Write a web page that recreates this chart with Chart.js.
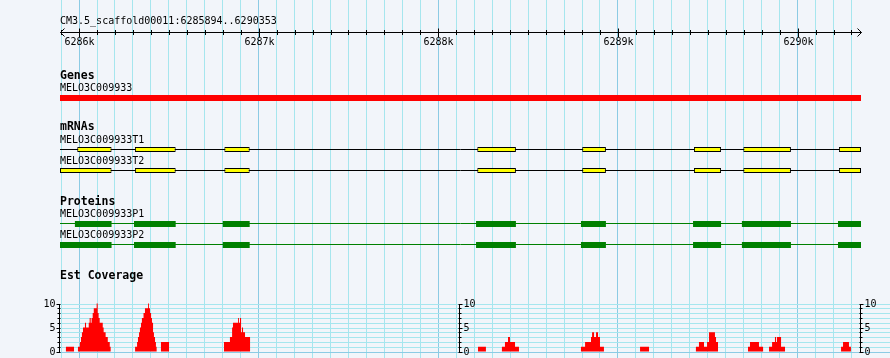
<!DOCTYPE html>
<html>
<head>
<meta charset="utf-8">
<script src="https://cdn.jsdelivr.net/npm/chart.js@4.4.0/dist/chart.umd.min.js"></script>
<style>
  html, body { margin: 0; padding: 0; background: #f2f5fa; }
  #wrap { position: relative; width: 890px; height: 358px; }
</style>
</head>
<body>
<div id="wrap"><canvas id="browser" width="890" height="358"></canvas></div>
<script>
// ─── DATA ─────────────────────────────────────────────────────────────────
const REF_NAME = 'CM3.5_scaffold00011';
const VIEW_START = 6285894;
const VIEW_END = 6290353;

const RULER_MAJOR = [6286000, 6287000, 6288000, 6289000, 6290000];
const RULER_LABELS = ['6286k', '6287k', '6288k', '6289k', '6290k'];

const TRACK_TITLES = ['Genes', 'mRNAs', 'Proteins', 'Est Coverage'];

const GENE_NAME = 'MELO3C009933';
const GENE_SPAN = [6285894, 6290353];

const MRNA_NAMES = ['MELO3C009933T1', 'MELO3C009933T2'];
const MRNA_T1_EXONS = [[6285990, 6286181], [6286311, 6286538], [6286809, 6286950], [6288217, 6288432],
                       [6288801, 6288933], [6289423, 6289574], [6289698, 6289963], [6290230, 6290353]];
const MRNA_T2_EXONS = [[6285894, 6286181], [6286311, 6286538], [6286809, 6286950], [6288217, 6288432],
                       [6288801, 6288933], [6289423, 6289574], [6289698, 6289963], [6290230, 6290353]];

const PROTEIN_NAMES = ['MELO3C009933P1', 'MELO3C009933P2'];
const PROTEIN_P1_CDS = [[6285977, 6286181], [6286306, 6286538], [6286800, 6286950], [6288210, 6288432],
                        [6288794, 6288933], [6289418, 6289574], [6289690, 6289963], [6290225, 6290353]];
const PROTEIN_P2_CDS = [[6285894, 6286181], [6286306, 6286538], [6286800, 6286950], [6288210, 6288432],
                        [6288794, 6288933], [6289418, 6289574], [6289690, 6289963], [6290225, 6290353]];

// coverage steps: each value holds from its position up to the next position
const COV_POS = [
  6285894, 6285927, 6285972,
  6285994, 6286005, 6286011, 6286016, 6286022, 6286033, 6286039, 6286054, 6286059, 6286065, 6286070,
  6286076, 6286082, 6286098, 6286104, 6286109, 6286115, 6286132, 6286137, 6286148, 6286160, 6286171, 6286176,
  6286312, 6286323, 6286328, 6286334, 6286339, 6286345, 6286350, 6286359, 6286367, 6286384, 6286389,
  6286395, 6286401, 6286406, 6286412, 6286417, 6286423, 6286428, 6286432,
  6286456, 6286501,
  6286807, 6286840, 6286852, 6286857, 6286885, 6286890, 6286896, 6286902, 6286907, 6286913, 6286924, 6286952,
  6288221, 6288265,
  6288354, 6288371, 6288388, 6288399, 6288427, 6288449,
  6288794, 6288817, 6288850, 6288856, 6288867, 6288878, 6288889, 6288900, 6288922,
  6289123, 6289173,
  6289434, 6289451, 6289479, 6289496, 6289507, 6289540, 6289546, 6289557,
  6289724, 6289735, 6289785, 6289808,
  6289841, 6289858, 6289874, 6289880, 6289885, 6289908, 6289930,
  6290242, 6290253, 6290286, 6290297, 6290353
];
const COV_VAL = [
  0, 1, 0,
  1, 2, 3, 4, 5, 6, 5, 6, 7, 6, 7,
  8, 9, 10, 8, 7, 6, 5, 4, 3, 2, 1, 0,
  1, 2, 3, 4, 5, 6, 7, 8, 9, 10, 9,
  8, 7, 6, 4, 3, 2, 1, 0,
  2, 0,
  2, 3, 5, 6, 7, 6, 7, 4, 5, 4, 3, 0,
  1, 0,
  1, 2, 3, 2, 1, 0,
  1, 2, 3, 4, 3, 4, 3, 1, 0,
  1, 0,
  1, 2, 1, 2, 4, 3, 2, 0,
  1, 2, 1, 0,
  1, 2, 3, 2, 3, 1, 0,
  1, 2, 1, 0, 0
];
const COV_MAX = 10;
const COV_LABELS = [0, 5, 10];

// ─── LAYOUT (pixels) ──────────────────────────────────────────────────────
const W = 890, H = 358;
const PLOT_LEFT = 60, PLOT_RIGHT = 861;
const ROW = {
  title: 21, ruler: 32, rulerLabel: 42.5,
  genesTitle: 76.5, geneName: 88.5, gene: 98,
  mrnaTitle: 127, t1Name: 140.5, t1: 149.5, t2Name: 161.5, t2: 170.5,
  protTitle: 202, p1Name: 214.5, p1: 224, p1Line: 223.5, p2Name: 235.5, p2: 245, p2Line: 244.5,
  covTitle: 276.5
};
const COV_TOP_PX = 303.5, COV_BASE_PX = 351.5;

const GRID_MINOR = '#a6e6ee';
const GRID_MAJOR = '#8ccbe4';
const FONT_SMALL = '10px "DejaVu Sans Mono", monospace';
const FONT_BOLD = 'bold 11.5px "DejaVu Sans Mono", monospace';

// x scale spans the whole canvas so the feature area lands at 60..861
const bpPerPx = (VIEW_END - VIEW_START) / (PLOT_RIGHT - PLOT_LEFT);
const X_MIN = VIEW_START - PLOT_LEFT * bpPerPx;
const X_MAX = VIEW_END + (W - PLOT_RIGHT) * bpPerPx;

// coverage axis: map 0..COV_MAX onto COV_BASE_PX..COV_TOP_PX inside a 0..H area
const covUnit = (COV_BASE_PX - COV_TOP_PX) / COV_MAX;
const YC_MIN = -(H - COV_BASE_PX) / covUnit;
const YC_MAX = YC_MIN + H / covUnit;

// ─── DATASETS ─────────────────────────────────────────────────────────────
function spans(list, row) { return list.map(([s, e]) => ({ x: [s, e], y: row })); }
function hline(row) { return [{ x: VIEW_START, y: row }, { x: VIEW_END, y: row }]; }

const barBase = { type: 'bar', indexAxis: 'y', xAxisID: 'x', yAxisID: 'y', grouped: false, inflateAmount: 0, order: 0 };
const lineBase = { type: 'line', xAxisID: 'x', yAxisID: 'y', pointRadius: 0, borderWidth: 1, tension: 0, order: 2 };

const datasets = [
  { ...barBase, data: spans([GENE_SPAN], ROW.gene), backgroundColor: '#ff0000', barThickness: 6, borderWidth: 0 },
  { ...barBase, data: spans(MRNA_T1_EXONS, ROW.t1), backgroundColor: '#ffff00', borderColor: '#000000',
    borderWidth: 1, borderSkipped: false, barThickness: 5 },
  { ...barBase, data: spans(MRNA_T2_EXONS, ROW.t2), backgroundColor: '#ffff00', borderColor: '#000000',
    borderWidth: 1, borderSkipped: false, barThickness: 5 },
  { ...barBase, data: spans(PROTEIN_P1_CDS, ROW.p1), backgroundColor: '#008000', barThickness: 6, borderWidth: 0 },
  { ...barBase, data: spans(PROTEIN_P2_CDS, ROW.p2), backgroundColor: '#008000', barThickness: 6, borderWidth: 0 },
  { ...lineBase, data: hline(ROW.t1), borderColor: '#000000' },
  { ...lineBase, data: hline(ROW.t2), borderColor: '#000000' },
  { ...lineBase, data: hline(ROW.p1Line), borderColor: '#008000' },
  { ...lineBase, data: hline(ROW.p2Line), borderColor: '#008000' },
  { type: 'line', xAxisID: 'x', yAxisID: 'yc', order: 1,
    data: COV_POS.map((p, i) => ({ x: p, y: COV_VAL[i] })),
    stepped: 'before', pointRadius: 0, borderWidth: 1, borderColor: 'rgba(0,0,0,0)',
    backgroundColor: '#ff0000', fill: { value: 0 } }
];

// ─── PLUGINS ──────────────────────────────────────────────────────────────
const covGridPlugin = {
  id: 'covGrid',
  beforeDatasetsDraw(chart) {
    const ctx = chart.ctx, yc = chart.scales.yc, x = chart.scales.x;
    const left = Math.round(x.getPixelForValue(VIEW_START));
    ctx.save();
    ctx.lineWidth = 1;
    for (let v = COV_MAX; v >= 0; v--) {
      const y = Math.round(yc.getPixelForValue(v)) + 0.5;
      ctx.strokeStyle = v === 0 ? GRID_MAJOR : GRID_MINOR;
      ctx.beginPath(); ctx.moveTo(left, y); ctx.lineTo(W, y); ctx.stroke();
    }
    ctx.restore();
  }
};

const labelsPlugin = {
  id: 'labels',
  afterDatasetsDraw(chart) {
    const ctx = chart.ctx, x = chart.scales.x, yc = chart.scales.yc;
    const px = v => Math.round(x.getPixelForValue(v)) + 0.5;
    const x0 = px(VIEW_START), x1 = px(VIEW_END);
    ctx.save();
    ctx.fillStyle = '#000';
    ctx.strokeStyle = '#000';
    ctx.lineWidth = 1;
    ctx.textBaseline = 'middle';

    // ruler
    ctx.font = FONT_SMALL;
    ctx.textAlign = 'left';
    ctx.fillText(REF_NAME + ':' + VIEW_START + '..' + VIEW_END, PLOT_LEFT, ROW.title);
    const ry = ROW.ruler + 0.5;
    ctx.beginPath();
    ctx.moveTo(x0, ry); ctx.lineTo(x1, ry);
    ctx.moveTo(x0 + 4, ry - 4); ctx.lineTo(x0, ry); ctx.lineTo(x0 + 4, ry + 4);
    ctx.moveTo(x1 - 4, ry - 4); ctx.lineTo(x1, ry); ctx.lineTo(x1 - 4, ry + 4);
    for (let v = Math.ceil(VIEW_START / 100) * 100; v <= VIEW_END; v += 100) {
      const major = RULER_MAJOR.includes(v);
      const t = px(v);
      ctx.moveTo(t, ry - (major ? 4 : 2.5)); ctx.lineTo(t, ry + (major ? 4.5 : 2.5));
    }
    ctx.stroke();
    ctx.textAlign = 'center';
    RULER_MAJOR.forEach((v, i) => ctx.fillText(RULER_LABELS[i], px(v), ROW.rulerLabel));

    // track titles and feature names
    ctx.textAlign = 'left';
    ctx.font = FONT_BOLD;
    [ROW.genesTitle, ROW.mrnaTitle, ROW.protTitle, ROW.covTitle].forEach((y, i) =>
      ctx.fillText(TRACK_TITLES[i], PLOT_LEFT, y));
    ctx.font = FONT_SMALL;
    ctx.fillText(GENE_NAME, PLOT_LEFT, ROW.geneName);
    ctx.fillText(MRNA_NAMES[0], PLOT_LEFT, ROW.t1Name);
    ctx.fillText(MRNA_NAMES[1], PLOT_LEFT, ROW.t2Name);
    ctx.fillText(PROTEIN_NAMES[0], PLOT_LEFT, ROW.p1Name);
    ctx.fillText(PROTEIN_NAMES[1], PLOT_LEFT, ROW.p2Name);

    // coverage axes: left, middle, right
    const axes = [
      { at: VIEW_START, side: -1 },
      { at: (VIEW_START + VIEW_END) / 2, side: 1 },
      { at: VIEW_END, side: 1 }
    ];
    const yTop = Math.round(yc.getPixelForValue(COV_MAX)) + 0.5;
    const yBot = Math.round(yc.getPixelForValue(0)) + 0.5;
    axes.forEach(a => {
      const ax = px(a.at) - 1;
      ctx.beginPath();
      ctx.moveTo(ax, yTop); ctx.lineTo(ax, yBot);
      for (let v = 0; v <= COV_MAX; v++) {
        const y = Math.round(yc.getPixelForValue(v)) + 0.5;
        const len = (v % 5 === 0) ? 3 : 2;
        ctx.moveTo(ax - (a.side < 0 ? len : 1), y); ctx.lineTo(ax + (a.side < 0 ? 1 : len), y);
      }
      ctx.stroke();
      ctx.textAlign = a.side < 0 ? 'right' : 'left';
      COV_LABELS.forEach(v => {
        ctx.fillText(String(v), ax + a.side * 4, yc.getPixelForValue(v) + 0.5);
      });
    });
    ctx.restore();
  }
};

// ─── CHART ────────────────────────────────────────────────────────────────
new Chart(document.getElementById('browser'), {
  type: 'bar',
  data: { datasets },
  options: {
    responsive: false,
    animation: false,
    events: [],
    layout: { padding: 0, autoPadding: false },
    plugins: { legend: { display: false }, tooltip: { enabled: false }, title: { display: false } },
    scales: {
      x: {
        type: 'linear', min: X_MIN, max: X_MAX, display: true, offset: false,
        afterBuildTicks: axis => {
          const ticks = [];
          for (let v = Math.ceil(VIEW_START / 100) * 100; v <= VIEW_END; v += 100) ticks.push({ value: v });
          axis.ticks = ticks;
        },
        ticks: { display: false },
        border: { display: false },
        grid: {
          drawTicks: false, offset: false,
          lineWidth: 1,
          color: c => (c.tick && c.tick.value % 1000 === 0) ? GRID_MAJOR : GRID_MINOR
        }
      },
      y: { type: 'linear', min: 0, max: H, reverse: true, display: false, offset: false },
      yc: { type: 'linear', min: YC_MIN, max: YC_MAX, display: false, offset: false }
    }
  },
  plugins: [covGridPlugin, labelsPlugin]
});
</script>
</body>
</html>
